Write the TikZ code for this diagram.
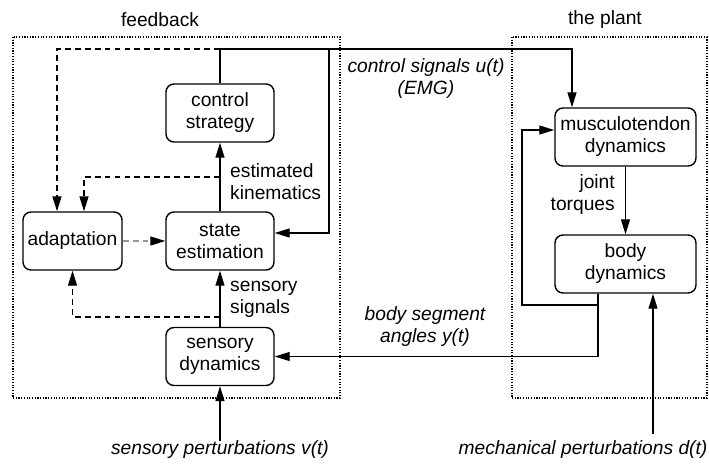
\documentclass[tikz,border=0pt]{standalone}
\usepackage{fontspec}
\setmainfont{Liberation Sans}
\usetikzlibrary{arrows.meta}
\definecolor{dashGray}{RGB}{150, 150, 150}

\tikzset{
  blk/.style={draw, line width=1.2pt, rounded corners=0.24cm, minimum width=3.24cm,
    minimum height=1.74cm, align=center, inner sep=0pt},
  lbl/.style={inner sep=0pt, align=center},
  arr/.style={line width=1.1pt, -{Triangle[length=0.45cm, width=0.27cm, color=black]}},
  dsh/.style={dash pattern=on 5pt off 3.5pt},
  frame/.style={line width=1pt, dash pattern=on 1pt off 1.3pt}
}

\begin{document}
\begin{tikzpicture}[x=0.03cm, y=-0.03cm, font=\fontsize{16.4}{18.8}\selectfont]
        \useasboundingbox (0,0) rectangle (709,465);
        \draw[frame] (13,37) rectangle (340,398);
        \draw[frame] (512,37) rectangle (707,398);
        \node[lbl] (fbtitle) at (160,20) {feedback};
        \node[lbl] (planttitle) at (605,20) {the plant};

        \node[blk] (ctrl) at (220,113) {control\\strategy};
        \node[blk] (state) at (220,241) {state\\estimation};
        \node[blk, minimum width=2.97cm] (adapt) at (72.5,241) {adaptation};
        \node[blk] (sens) at (220,356.5) {sensory\\dynamics};
        \node[blk, minimum width=4.23cm] (musc) at (625.5,137) {musculotendon\\dynamics};
        \node[blk, minimum width=4.23cm] (body) at (625.5,264) {body\\dynamics};

        \node[lbl, font=\fontsize{16.4}{18.8}\selectfont\itshape] (emglbl) at (426,79) {control signals u(t)\\(EMG)};
        \node[lbl, align=left, anchor=west] (estlbl) at (230,182) {estimated\\kinematics};
        \node[lbl, align=left, anchor=west] (siglbl) at (230,299) {sensory\\signals};
        \node[lbl, align=right, anchor=east] (torqlbl) at (615,195) {joint\\torques};
        \node[lbl, font=\fontsize{16.4}{18.8}\selectfont\itshape] (anglbl) at (425,327) {body segment\\angles y(t)};
        \node[lbl, font=\fontsize{16.4}{18.8}\selectfont\itshape] (vpert) at (220,450) {sensory perturbations v(t)};
        \node[lbl, font=\fontsize{16.4}{18.8}\selectfont\itshape] (dpert) at (583,450) {mechanical perturbations d(t)};

        \coordinate (split) at (220,49);
        \coordinate (emg) at (572,49);
        \coordinate (tap) at (329,49);
        \coordinate (est) at (220,177);
        \coordinate (sig) at (220,317);
        \coordinate (knee) at (598,305);
        \coordinate (loop) at (522,130);

        \draw[line width=1.1pt] (ctrl.north) -- (split);
        \draw[arr] (split) -- (emg) -- (emg |- musc.north);
        \draw[arr] (tap) |- ([yshift=0.24cm]state.east);
        \draw[arr, dsh] (split) -| ([xshift=-0.465cm]adapt.north);
        \draw[arr, dsh] (est) -| ([xshift=0.345cm]adapt.north);
        \draw[arr, dsh] (sig) -| (adapt.south);
        \draw[arr, dsh, dashGray] (adapt) -- (state);
        \draw[arr] (state.north) -- (ctrl.south);
        \draw[arr] (sens.north) -- (state.south);
        \draw[arr] (vpert.north) -- (sens.south);
        \draw[arr] (musc.south) -- (body.north);
        \draw[arr] ([xshift=-0.825cm]body.south) |- (sens.east);
        \draw[arr] (knee) -| (loop) |- ([yshift=0.21cm]musc.west);
        \draw[arr] ([xshift=2.1cm, yshift=0.2cm]dpert.north) -- ([xshift=2.1cm]dpert.north |- body.south);
      \end{tikzpicture}
\end{document}
